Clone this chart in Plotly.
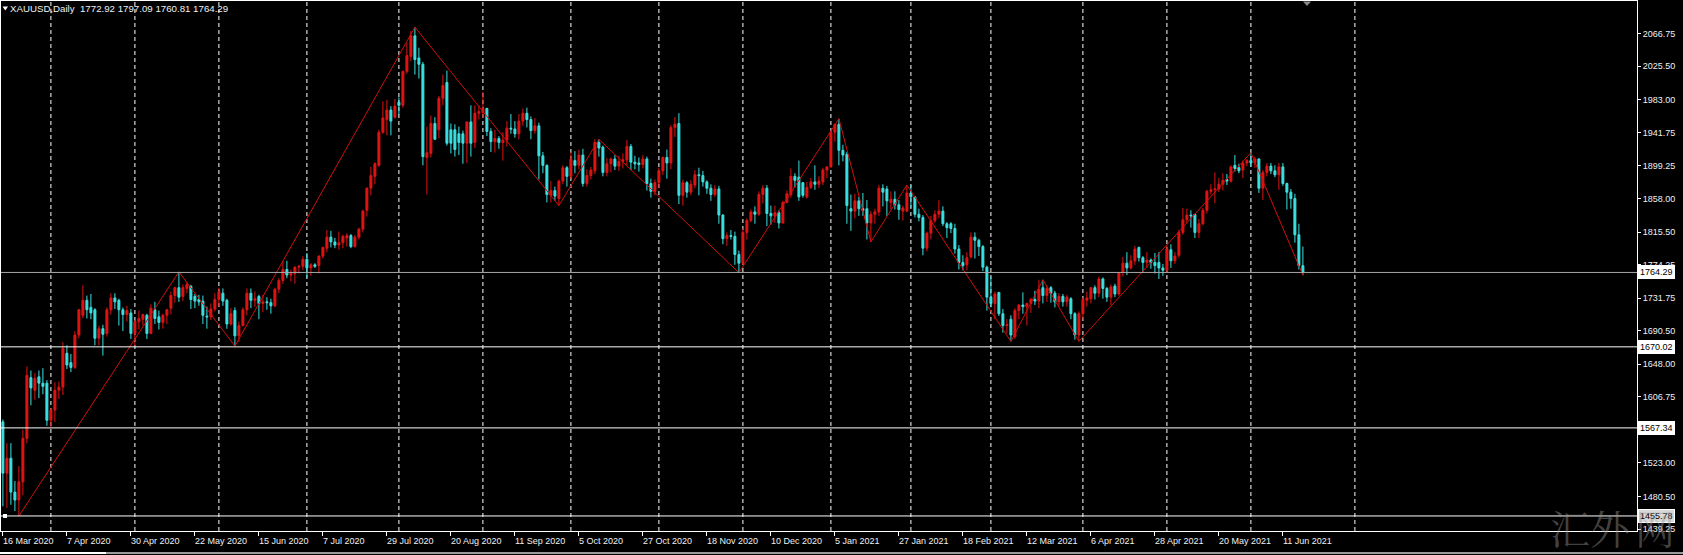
import pandas as pd
import plotly.graph_objects as go

symbol_title = "XAUUSD,Daily"
first_day = "2020-03-16"
last_day = "2021-06-18"
market_holidays = ["2020-04-10", "2020-12-25", "2021-01-01", "2021-04-02"]

# one line per month
open_px = [
    1575, 1510, 1529, 1486, 1476, 1499, 1554, 1631, 1615, 1632, 1624, 1624,
    1577, 1590, 1615, 1619, 1662, 1650, 1644, 1685, 1710, 1729, 1720, 1717, 1681, 1693, 1687, 1717, 1732, 1729, 1717, 1711, 1713,
    1687, 1702, 1705, 1710, 1687, 1717, 1708, 1701, 1710, 1719, 1735, 1745, 1734, 1744, 1747, 1734, 1730, 1728, 1709, 1708, 1718,
    1730, 1738, 1729, 1699, 1716, 1684, 1697, 1717, 1738, 1729, 1734, 1725, 1727, 1726, 1722, 1743, 1754, 1768, 1761, 1763, 1771, 1772,
    1781, 1770, 1774, 1773, 1785, 1795, 1809, 1803, 1799, 1802, 1808, 1811, 1797, 1809, 1819, 1843, 1871, 1886, 1900, 1942, 1958, 1970, 1961,
    1980, 1976, 2019, 2038, 2064, 2036, 2028, 1910, 1915, 1953, 1945, 1985, 2005, 1945, 1945, 1940, 1940, 1928, 1955, 1929, 1966,
    1967, 1972, 1943, 1930, 1934, 1929, 1932, 1947, 1946, 1940, 1956, 1966, 1958, 1944, 1950, 1912, 1900, 1862, 1868, 1858, 1880, 1897,
    1886, 1906, 1900, 1913, 1877, 1887, 1893, 1929, 1923, 1891, 1902, 1908, 1899, 1905, 1907, 1924, 1904, 1903, 1901, 1908, 1877, 1867,
    1878, 1893, 1910, 1903, 1948, 1953, 1862, 1878, 1866, 1875, 1888, 1887, 1879, 1871, 1863, 1870, 1837, 1807, 1811, 1810, 1787,
    1776, 1815, 1830, 1841, 1838, 1863, 1871, 1839, 1836, 1840, 1827, 1853, 1863, 1886, 1885, 1878, 1860, 1872, 1879, 1876, 1879, 1894,
    1898, 1942, 1952, 1919, 1914, 1845, 1842, 1855, 1845, 1845, 1827, 1838, 1841, 1871, 1870, 1853, 1857, 1850, 1842, 1842,
    1865, 1860, 1838, 1834, 1795, 1814, 1830, 1838, 1842, 1826, 1826, 1820, 1794, 1777, 1774, 1784, 1809, 1805, 1797, 1771,
    1733, 1725, 1739, 1712, 1697, 1705, 1683, 1716, 1723, 1721, 1725, 1730, 1728, 1745, 1735, 1745, 1738, 1727, 1734, 1727, 1731, 1712, 1685,
    1712, 1729, 1731, 1745, 1738, 1756, 1744, 1733, 1747, 1737, 1764, 1776, 1770, 1779, 1796, 1783, 1777, 1780, 1777, 1777, 1770,
    1767, 1793, 1779, 1786, 1815, 1831, 1837, 1838, 1815, 1826, 1843, 1867, 1869, 1870, 1876, 1882, 1880, 1900, 1897, 1894, 1903,
    1906, 1903, 1908, 1871, 1891, 1899, 1893, 1888, 1898, 1877, 1866, 1858, 1812, 1772.92,
]
high_px = [
    1578, 1548, 1548, 1500, 1519, 1565, 1645, 1640, 1637, 1640, 1643, 1628,
    1592, 1625, 1626, 1676, 1672, 1661, 1690, 1718, 1748, 1735, 1737, 1719, 1697, 1698, 1720, 1738, 1738, 1731, 1720, 1722, 1718,
    1704, 1716, 1712, 1712, 1724, 1727, 1716, 1712, 1718, 1740, 1746, 1765, 1749, 1752, 1748, 1737, 1736, 1735, 1721, 1725, 1738,
    1745, 1744, 1731, 1719, 1720, 1702, 1720, 1744, 1744, 1740, 1736, 1736, 1733, 1731, 1745, 1757, 1779, 1779, 1768, 1772, 1774, 1785,
    1789, 1776, 1776, 1786, 1797, 1818, 1817, 1808, 1816, 1812, 1814, 1813, 1812, 1821, 1844, 1872, 1898, 1904, 1945, 1981, 1983, 1975, 1984,
    1986, 2020, 2055, 2070, 2075, 2049, 2031, 1949, 1963, 1961, 1988, 2015, 2020, 1953, 1952, 1949, 1944, 1955, 1976, 1976, 1976,
    1993, 1973, 1947, 1945, 1937, 1942, 1956, 1965, 1956, 1965, 1972, 1973, 1962, 1960, 1954, 1917, 1901, 1880, 1873, 1882, 1900, 1899,
    1917, 1918, 1920, 1921, 1895, 1898, 1933, 1933, 1925, 1909, 1910, 1913, 1912, 1915, 1932, 1927, 1912, 1910, 1913, 1911, 1883, 1882,
    1897, 1911, 1920, 1951, 1961, 1966, 1882, 1880, 1881, 1894, 1897, 1893, 1881, 1876, 1875, 1874, 1838, 1815, 1818, 1816, 1792,
    1820, 1833, 1844, 1848, 1867, 1875, 1875, 1849, 1849, 1843, 1855, 1868, 1896, 1890, 1906, 1879, 1879, 1884, 1900, 1886, 1897, 1899,
    1944, 1953, 1959, 1926, 1917, 1863, 1864, 1860, 1865, 1856, 1842, 1845, 1875, 1876, 1874, 1867, 1867, 1856, 1849, 1875,
    1875, 1861, 1845, 1837, 1816, 1836, 1843, 1856, 1848, 1828, 1828, 1826, 1799, 1786, 1790, 1815, 1815, 1807, 1799, 1773,
    1759, 1740, 1739, 1718, 1705, 1710, 1719, 1724, 1739, 1726, 1732, 1741, 1755, 1755, 1748, 1747, 1741, 1738, 1737, 1736, 1733, 1714, 1715,
    1733, 1740, 1745, 1748, 1759, 1758, 1746, 1749, 1750, 1765, 1784, 1790, 1786, 1798, 1797, 1785, 1790, 1782, 1789, 1790, 1775,
    1799, 1800, 1790, 1818, 1846, 1845, 1843, 1838, 1832, 1846, 1869, 1876, 1891, 1884, 1890, 1889, 1900, 1913, 1902, 1906, 1908,
    1916, 1911, 1909, 1894, 1903, 1903, 1900, 1903, 1903, 1878, 1870, 1864, 1826, 1797.09,
]
low_px = [
    1468, 1466, 1470, 1462, 1455.78, 1482, 1548, 1596, 1603, 1605, 1610, 1570,
    1568, 1575, 1604, 1609, 1642, 1638, 1642, 1681, 1706, 1706, 1705, 1672, 1672, 1659, 1683, 1711, 1718, 1697, 1690, 1702, 1680,
    1670, 1692, 1697, 1680, 1686, 1699, 1692, 1693, 1699, 1711, 1726, 1727, 1728, 1738, 1718, 1719, 1722, 1699, 1693, 1704, 1715,
    1721, 1722, 1693, 1697, 1671, 1676, 1696, 1710, 1719, 1721, 1705, 1714, 1717, 1712, 1720, 1738, 1750, 1757, 1753, 1750, 1763, 1767,
    1757, 1760, 1770, 1763, 1782, 1790, 1796, 1795, 1793, 1795, 1797, 1795, 1796, 1806, 1815, 1835, 1862, 1876, 1898, 1940, 1938, 1938, 1959,
    1964, 1973, 2016, 2032, 2015, 2010, 1900, 1863, 1910, 1932, 1934, 1976, 1925, 1915, 1911, 1913, 1902, 1903, 1911, 1922, 1958,
    1960, 1937, 1917, 1916, 1921, 1906, 1924, 1940, 1935, 1933, 1950, 1948, 1933, 1940, 1882, 1890, 1853, 1853, 1855, 1849, 1876, 1873,
    1883, 1890, 1895, 1873, 1873, 1882, 1889, 1911, 1886, 1886, 1891, 1894, 1893, 1896, 1900, 1894, 1895, 1892, 1896, 1868, 1859, 1862,
    1871, 1888, 1883, 1895, 1936, 1851, 1849, 1859, 1862, 1871, 1862, 1873, 1864, 1855, 1860, 1826, 1800, 1798, 1806, 1774, 1764,
    1774, 1806, 1828, 1826, 1836, 1852, 1823, 1825, 1827, 1820, 1826, 1852, 1859, 1872, 1855, 1859, 1858, 1870, 1869, 1871, 1875, 1884,
    1897, 1930, 1900, 1905, 1826, 1817, 1833, 1836, 1836, 1806, 1803, 1826, 1836, 1848, 1836, 1844, 1844, 1831, 1830, 1841,
    1846, 1834, 1829, 1786, 1791, 1806, 1827, 1833, 1823, 1808, 1814, 1788, 1768, 1767, 1767, 1782, 1782, 1785, 1766, 1716,
    1720, 1705, 1709, 1688, 1687, 1677, 1680, 1705, 1712, 1697, 1713, 1723, 1719, 1725, 1727, 1726, 1720, 1722, 1721, 1721, 1705, 1679, 1677,
    1705, 1721, 1725, 1730, 1733, 1731, 1727, 1723, 1733, 1735, 1759, 1761, 1768, 1774, 1778, 1764, 1770, 1769, 1763, 1756, 1760,
    1765, 1770, 1775, 1783, 1812, 1827, 1821, 1808, 1808, 1824, 1839, 1863, 1852, 1866, 1868, 1875, 1878, 1892, 1890, 1884, 1899,
    1898, 1897, 1865, 1856, 1886, 1889, 1885, 1869, 1874, 1844, 1845, 1802, 1768, 1760.81,
]
close_px = [
    1510, 1529, 1486, 1476, 1499, 1554, 1634, 1618, 1630, 1624, 1620, 1577,
    1590, 1615, 1619, 1668, 1647, 1644, 1685, 1717, 1729, 1717, 1713, 1681, 1693, 1686, 1717, 1732, 1727, 1717, 1711, 1716, 1687,
    1702, 1706, 1711, 1687, 1719, 1706, 1701, 1710, 1717, 1735, 1745, 1733, 1745, 1749, 1730, 1728, 1727, 1710, 1708, 1718, 1730,
    1740, 1728, 1699, 1712, 1684, 1697, 1717, 1738, 1729, 1731, 1725, 1727, 1726, 1722, 1743, 1754, 1768, 1761, 1763, 1771, 1772, 1781,
    1770, 1774, 1772, 1785, 1796, 1809, 1803, 1799, 1802, 1810, 1811, 1797, 1809, 1819, 1842, 1871, 1887, 1902, 1942, 1960, 1970, 1956, 1975,
    1976, 2019, 2039, 2064, 2034, 2028, 1911, 1916, 1953, 1933, 1985, 2001, 1928, 1928, 1920, 1929, 1928, 1955, 1928, 1966, 1968,
    1972, 1943, 1930, 1934, 1929, 1932, 1947, 1946, 1940, 1956, 1966, 1958, 1944, 1950, 1912, 1900, 1863, 1868, 1861, 1880, 1897, 1886,
    1908, 1900, 1913, 1877, 1887, 1894, 1929, 1922, 1891, 1902, 1908, 1899, 1905, 1907, 1924, 1904, 1902, 1901, 1908, 1877, 1867, 1878,
    1893, 1910, 1903, 1948, 1952, 1862, 1878, 1866, 1876, 1888, 1887, 1879, 1871, 1863, 1870, 1837, 1807, 1811, 1810, 1787, 1776,
    1815, 1830, 1841, 1838, 1863, 1871, 1839, 1836, 1840, 1827, 1853, 1864, 1886, 1881, 1860, 1862, 1872, 1879, 1876, 1880, 1894, 1898,
    1942, 1952, 1919, 1913, 1849, 1842, 1855, 1845, 1843, 1827, 1838, 1841, 1871, 1866, 1855, 1857, 1850, 1844, 1846, 1865,
    1860, 1838, 1834, 1795, 1814, 1830, 1838, 1842, 1826, 1821, 1820, 1794, 1777, 1773, 1783, 1809, 1805, 1797, 1771, 1733,
    1725, 1737, 1712, 1697, 1698, 1685, 1716, 1723, 1721, 1725, 1730, 1728, 1743, 1735, 1744, 1738, 1727, 1734, 1727, 1733, 1712, 1685, 1712,
    1730, 1732, 1745, 1738, 1756, 1744, 1733, 1746, 1737, 1764, 1776, 1770, 1779, 1794, 1783, 1777, 1780, 1777, 1773, 1770, 1767,
    1794, 1779, 1785, 1815, 1831, 1837, 1836, 1815, 1826, 1843, 1867, 1869, 1870, 1876, 1881, 1880, 1898, 1896, 1893, 1903, 1906,
    1903, 1908, 1871, 1891, 1899, 1893, 1888, 1898, 1877, 1866, 1858, 1812, 1773, 1764.29,
]

# horizontal price levels (first one is the current bid line)
level_lines = [1764.29, 1670.02, 1567.34, 1455.78]

price_ticks = [2066.75, 2025.50, 1983.00, 1941.75, 1899.25, 1858.00, 1815.50, 1774.25,
               1731.75, 1690.50, 1648.00, 1606.75, 1523.00, 1480.50, 1439.25]
price_tick_text = ["2066.75", "2025.50", "1983.00", "1941.75", "1899.25", "1858.00", "1815.50", "1774.25",
                   "1731.75", "1690.50", "1648.00", "1606.75", "1523.00", "1480.50", "1439.25"]

# ZigZag indicator turning points (bar index, H/L)
zigzag_bars = [4, 44, 58, 103, 139, 149, 184, 209, 217, 226, 252, 260, 269, 312, 325]
zigzag_kind = ["L", "H", "L", "H", "L", "H", "L", "H", "L", "H", "L", "H", "L", "H", "L"]

date_label_step = 16
watermark_chars = ["汇", "外", "网"]

# ---------------------------------------------------------------------------
W, H = 1683, 555
ML, MR, MT, MB = 1, 46, 1, 24
PW, PH = W - ML - MR, H - MT - MB
Y_LO, Y_HI = 1436.72, 2108.18
BAR_PX = 4.0
X0 = -(2.9 - ML) / BAR_PX
X1 = X0 + PW / BAR_PX

FONT = "Liberation Sans, Arial, sans-serif"
UP = "#e01414"
DOWN = "#3ee0e0"
FG = "#f0f0f0"


def pxx(p):
    return (p - ML) / PW


def pxy(p):
    return (MT + PH - p) / PH


dates = [d for d in pd.bdate_range(first_day, last_day) if d.strftime("%Y-%m-%d") not in market_holidays]
n = min(len(dates), len(open_px), len(high_px), len(low_px), len(close_px))
if not (len(dates) == len(open_px) == len(high_px) == len(low_px) == len(close_px)):
    import sys
    print("length mismatch", len(dates), len(open_px), len(high_px), len(low_px), len(close_px), file=sys.stderr)
bars = list(range(n))

fig = go.Figure()
fig.add_trace(go.Candlestick(
    x=bars, open=open_px[:n], high=high_px[:n], low=low_px[:n], close=close_px[:n],
    increasing=dict(line=dict(color=UP, width=1), fillcolor=UP),
    decreasing=dict(line=dict(color=DOWN, width=1), fillcolor=DOWN),
    whiskerwidth=0, hoverinfo="skip", showlegend=False,
))

zz_y = [low_px[b] if k == "L" else high_px[b] for b, k in zip(zigzag_bars, zigzag_kind)]
fig.add_trace(go.Scatter(x=zigzag_bars, y=zz_y, mode="lines",
                         line=dict(color="#d01010", width=1), hoverinfo="skip", showlegend=False))

shapes = []
# month separators (dashed grid)
month_bars = [i for i in range(1, n) if dates[i].month != dates[i - 1].month]
nxt = dates[n - 1] + pd.offsets.MonthBegin(1)
month_bars.append(n - 1 + (nxt - dates[n - 1]).days)
for b in month_bars:
    shapes.append(dict(type="line", xref="x", yref="paper", x0=b, x1=b, y0=0, y1=1,
                       line=dict(color="#ffffff", width=1, dash="4px,3px"), layer="below"))

annotations = []
for i, lv in enumerate(level_lines):
    col = "#a8a8a8" if i == 0 else "#ffffff"
    shapes.append(dict(type="line", xref="paper", yref="y", x0=0, x1=1, y0=lv, y1=lv,
                       line=dict(color=col, width=1), layer="above"))
    annotations.append(dict(xref="paper", yref="y", x=1, y=lv, xanchor="left", yanchor="middle",
                            xshift=1, text=f"{lv:.2f}", showarrow=False,
                            bgcolor="#ffffff" if i != 3 else "#d8d8d8",
                            bordercolor="#ffffff", borderwidth=1, borderpad=1,
                            font=dict(family=FONT, size=9, color="#000000")))

# date labels, left aligned at their tick
for b in bars[::date_label_step]:
    d = dates[b]
    annotations.append(dict(xref="x", yref="paper", x=b, y=pxy(541), xanchor="left", yanchor="middle",
                            xshift=-2, text=f"{d.day} {d.strftime('%b %Y')}", showarrow=False,
                            font=dict(family=FONT, size=9, color=FG)))

# header
head = f"{symbol_title}\u00a0\u00a0{open_px[n-1]:.2f} {high_px[n-1]:.2f} {low_px[n-1]:.2f} {close_px[n-1]:.2f}"
annotations.append(dict(xref="paper", yref="paper", x=pxx(8), y=pxy(9), xanchor="left", yanchor="middle",
                        text=head, showarrow=False, font=dict(family=FONT, size=9.7, color=FG)))
shapes.append(dict(type="path", xref="paper", yref="paper",
                   path=f"M {pxx(2.5)} {pxy(6.5)} L {pxx(8)} {pxy(6.5)} L {pxx(5.25)} {pxy(10.5)} Z",
                   fillcolor="#ffffff", line=dict(width=0)))

# chart shift marker at top
shapes.append(dict(type="path", xref="paper", yref="paper",
                   path=f"M {pxx(1303)} {pxy(1.5)} L {pxx(1311)} {pxy(1.5)} L {pxx(1307)} {pxy(6)} Z",
                   fillcolor="#8a8a8a", line=dict(width=0)))

# small anchor square on the lowest level line
shapes.append(dict(type="rect", xref="paper", yref="y", x0=pxx(3), x1=pxx(7),
                   y0=level_lines[3] - 2.5, y1=level_lines[3] + 2.5,
                   fillcolor="#ffffff", line=dict(width=0)))

# bottom window edge
shapes.append(dict(type="line", xref="paper", yref="paper", x0=pxx(0), x1=pxx(W), y0=pxy(553), y1=pxy(553),
                   line=dict(color="#9a9a9a", width=2)))
shapes.append(dict(type="line", xref="paper", yref="paper", x0=pxx(0), x1=pxx(106), y0=pxy(553), y1=pxy(553),
                   line=dict(color="#ffffff", width=2)))

# watermark (one glyph per annotation, spread like the original)
for ch, cx in zip(watermark_chars, [1570, 1610, 1655]):
    annotations.append(dict(xref="paper", yref="paper", x=pxx(cx), y=pxy(526), xanchor="center",
                            yanchor="middle", text=ch, showarrow=False,
                            font=dict(family="Noto Serif CJK SC, Noto Sans CJK SC", size=40,
                                      color="rgba(150,150,150,0.45)")))

fig.update_layout(
    width=W, height=H,
    margin=dict(l=ML, r=MR, t=MT, b=MB, pad=0),
    paper_bgcolor="#000000", plot_bgcolor="#000000",
    showlegend=False, hovermode=False,
    shapes=shapes, annotations=annotations,
    xaxis=dict(range=[X0, X1], showgrid=False, zeroline=False, showline=True, mirror=True,
               linecolor="#ffffff", linewidth=1, ticks="outside", ticklen=4, tickcolor="#ffffff",
               tickvals=bars[::date_label_step], showticklabels=False,
               rangeslider=dict(visible=False), fixedrange=True),
    yaxis=dict(side="right", range=[Y_LO, Y_HI], showgrid=False, zeroline=False, showline=True,
               mirror=True, linecolor="#ffffff", linewidth=1, ticks="outside", ticklen=3,
               tickcolor="#ffffff", tickvals=price_ticks, ticktext=price_tick_text,
               tickfont=dict(family=FONT, size=9, color=FG), fixedrange=True),
)

fig.write_html(
    "out.html",
    config={"displayModeBar": False, "staticPlot": True},
    post_script="document.body.style.margin='0';document.body.style.padding='0';"
                "document.body.style.overflow='hidden';document.body.style.background='#000';",
)
